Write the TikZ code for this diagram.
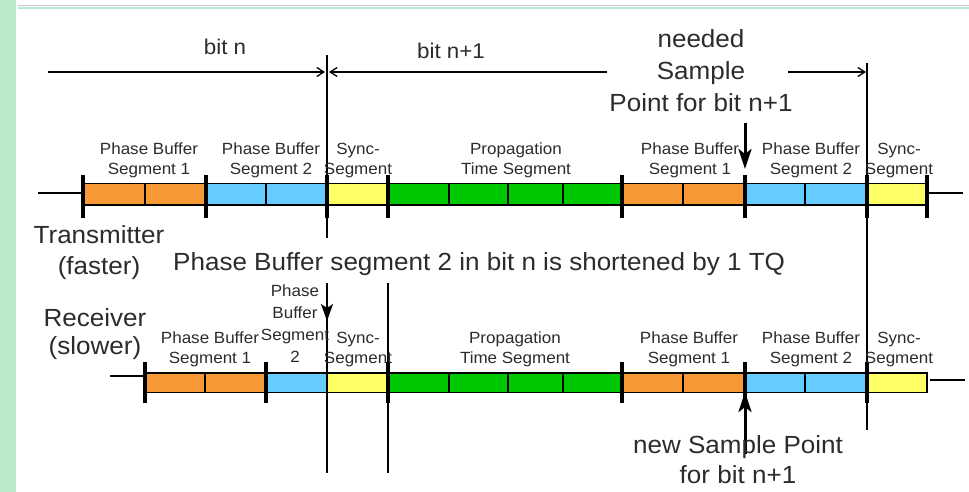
\documentclass[tikz,border=0pt]{standalone}
\usepackage{fontspec}
\setmainfont{Liberation Sans}[FakeStretch=1.05]
\usetikzlibrary{arrows.meta}

\definecolor{pborange}{HTML}{F79A35}
\definecolor{pbblue}{HTML}{66CCFF}
\definecolor{syncyellow}{HTML}{FFFF66}
\definecolor{propgreen}{HTML}{00C800}
\definecolor{sidegreen}{HTML}{B9EBCB}
\definecolor{rulegray}{HTML}{C8C8C8}
\definecolor{ruleteal}{HTML}{B4E6DA}
\definecolor{ink}{HTML}{2C2C2C}

\tikzset{
  outline/.style={draw=black, line width=1.6pt},
  tickmark/.style={line width=3.2pt},
  divider/.style={line width=2pt},
  guide/.style={line width=1.4pt},
  lead/.style={line width=1.5pt},
  dimarrow/.style={line width=1.3pt, -{Straight Barb[length=7pt,width=9pt]}},
  samplearrow/.style={line width=3pt, -{Stealth[length=20pt 0,width=13pt 0,inset=5pt 0]}},
  shiftarrow/.style={line width=1.6pt, -{Stealth[length=17pt 0,width=12pt 0,inset=4pt 0]}},
  seglabel/.style={font=\fontsize{16.2}{20}\selectfont, align=center, anchor=north, inner sep=0pt, text=ink},
  biglabel/.style={font=\fontsize{24.8}{31}\selectfont, align=center, anchor=north, inner sep=0pt, text=ink},
  bitlabel/.style={font=\fontsize{21.3}{26}\selectfont, anchor=north, inner sep=0pt, text=ink},
}

\begin{document}
\begin{tikzpicture}[x=1pt, y=-1pt]
  \useasboundingbox (0,0) rectangle (969,492);
  \fill[white] (0,0) rectangle (969,492);

  % page frame: green side strip and header rule
  \fill[sidegreen] (0,0) rectangle (16,492);
  \draw[rulegray, line width=1pt] (18,6) -- (969,6);
  \draw[ruleteal, line width=1.6pt] (18,7.8) -- (969,7.8);

  % ---------- transmitter bit stream ----------
  \fill[pborange]   (83,183.5)  rectangle (206,205);
  \fill[pbblue]     (206,183.5) rectangle (327,205);
  \fill[syncyellow] (327,183.5) rectangle (388,205);
  \fill[propgreen]  (388,183.5) rectangle (622,205);
  \fill[pborange]   (622,183.5) rectangle (745,205);
  \fill[pbblue]     (745,183.5) rectangle (867,205);
  \fill[syncyellow] (867,183.5) rectangle (927,205);
  \draw[outline] (83,183.5) rectangle (927,205);
  \foreach \x in {145,266,449,508,563,683,805}
    \draw[divider] (\x,183.5) -- (\x,205);
  \foreach \x in {83,206,327,388,622,745,867,927}
    \draw[tickmark] (\x,175) -- (\x,218);
  \draw[lead] (38,193) -- (83,193);
  \draw[lead] (927,193) -- (963,193);

  % ---------- receiver bit stream ----------
  \fill[pborange]   (145,373) rectangle (266,392.5);
  \fill[pbblue]     (266,373) rectangle (327,392.5);
  \fill[syncyellow] (327,373) rectangle (388,392.5);
  \fill[propgreen]  (388,373) rectangle (622,392.5);
  \fill[pborange]   (622,373) rectangle (745,392.5);
  \fill[pbblue]     (745,373) rectangle (867,392.5);
  \fill[syncyellow] (867,373) rectangle (927,392.5);
  \draw[outline] (145,373) rectangle (927,392.5);
  \foreach \x in {205,327,449,508,563,683,805}
    \draw[divider] (\x,373) -- (\x,392.5);
  \foreach \x in {145,266,388,622,745,867}
    \draw[tickmark] (\x,362) -- (\x,403);
  \draw[lead] (110,376) -- (145,376);
  \draw[lead] (930,380) -- (965,380);

  % ---------- bit boundary guides ----------
  \coordinate (txEdgeTop) at (327,55);
  \coordinate (txEdgeBot) at (327,238);
  \coordinate (rxEdgeTop) at (327,283);
  \coordinate (rxEdgeBot) at (327,473);
  \coordinate (rxSyncTop) at (388,283);
  \coordinate (rxSyncBot) at (388,473);
  \coordinate (nextTop)   at (867,63);
  \coordinate (nextBot)   at (867,430);
  \draw[guide] (txEdgeTop) -- (txEdgeBot);
  \draw[guide] (rxEdgeTop) -- (rxEdgeBot);
  \draw[guide] (rxSyncTop) -- (rxSyncBot);
  \draw[guide] (nextTop) -- (nextBot);

  % ---------- bit length arrows ----------
  \coordinate (bitnStart) at (48,72);
  \coordinate (bitnEnd)   at (325,72);
  \coordinate (bitmStart) at (607,72);
  \coordinate (bitmEnd)   at (329,72);
  \coordinate (nextStart) at (788,72);
  \coordinate (nextEnd)   at (866,72);
  \draw[dimarrow] (bitnStart) -- (bitnEnd);
  \draw[dimarrow] (bitmStart) -- (bitmEnd);
  \draw[dimarrow] (nextStart) -- (nextEnd);

  % ---------- sample point arrows ----------
  \coordinate (neededTail) at (745,123);
  \coordinate (neededTip)  at (745,169);
  \coordinate (shortTail)  at (327,283);
  \coordinate (shortTip)   at (327,321);
  \coordinate (newTail)    at (745,454);
  \coordinate (newTip)     at (745,392);
  \draw[samplearrow] (neededTail) -- (neededTip);
  \draw[shiftarrow] (shortTail) -- (shortTip);
  \draw[samplearrow] (newTail) -- (newTip);

  % ---------- labels ----------
  \node[bitlabel] (bitn) at (225,39) {bit n};
  \node[bitlabel] (bitm) at (451,43) {bit n+1};
  \node[biglabel, font=\fontsize{24.8}{32}\selectfont] (needed) at (701,29)
    {needed\\Sample\\Point for bit n+1};

  \node[seglabel] (tx1) at (149,143) {Phase Buffer\\Segment 1};
  \node[seglabel] (tx2) at (271,143) {Phase Buffer\\Segment 2};
  \node[seglabel] (tx3) at (358,143) {Sync-\\Segment};
  \node[seglabel] (tx4) at (516,143) {Propagation\\Time Segment};
  \node[seglabel] (tx5) at (690,143) {Phase Buffer\\Segment 1};
  \node[seglabel] (tx6) at (811,143) {Phase Buffer\\Segment 2};
  \node[seglabel] (tx7) at (899,143) {Sync-\\Segment};

  \node[biglabel] (tx) at (99,225) {Transmitter\\(faster)};
  \node[biglabel, anchor=north west] (note) at (173,252)
    {Phase Buffer segment 2 in bit n is shortened by 1 TQ};
  \node[biglabel, font=\fontsize{24.8}{28}\selectfont] (rx) at (95,308) {Receiver\\(slower)};

  \node[seglabel] (rx1) at (210,332) {Phase Buffer\\Segment 1};
  \node[seglabel, font=\fontsize{16.2}{22}\selectfont] (rx2) at (295,285) {Phase\\Buffer\\Segment\\2};
  \node[seglabel] (rx3) at (358,332) {Sync-\\Segment};
  \node[seglabel] (rx4) at (515,332) {Propagation\\Time Segment};
  \node[seglabel] (rx5) at (689,332) {Phase Buffer\\Segment 1};
  \node[seglabel] (rx6) at (811,332) {Phase Buffer\\Segment 2};
  \node[seglabel] (rx7) at (899,332) {Sync-\\Segment};

  \node[biglabel, font=\fontsize{24.8}{30}\selectfont] (newsp) at (738,435)
    {new Sample Point\\for bit n+1};
\end{tikzpicture}
\end{document}
